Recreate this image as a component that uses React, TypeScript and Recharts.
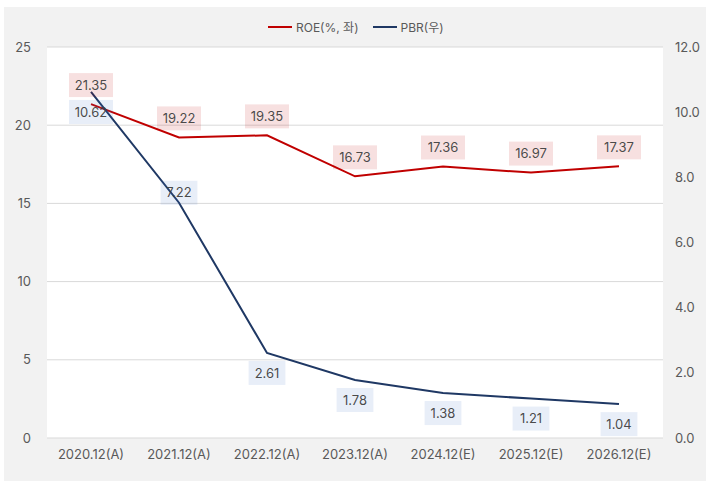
import React from 'react';
import {
  ComposedChart,
  Line,
  XAxis,
  YAxis,
  CartesianGrid,
  LabelList,
} from 'recharts';

const categories = [
  '2020.12(A)',
  '2021.12(A)',
  '2022.12(A)',
  '2023.12(A)',
  '2024.12(E)',
  '2025.12(E)',
  '2026.12(E)',
];
const roeValues = [21.35, 19.22, 19.35, 16.73, 17.36, 16.97, 17.37];
const pbrValues = [10.62, 7.22, 2.61, 1.78, 1.38, 1.21, 1.04];
const leftTicks = [0, 5, 10, 15, 20, 25];
const rightTicks = [0, 2, 4, 6, 8, 10, 12];

const data = categories.map((name, i) => ({
  name,
  roe: roeValues[i],
  pbr: pbrValues[i],
}));

const FONT = 'Inter, "Noto Sans CJK KR", sans-serif';
const RED = '#c00000';
const NAVY = '#1f3864';
const TEXT = '#595959';

// boxes are translucent so the lines still show through, as in the original
const makeLabel = (above: boolean, bg: string) => (props: any) => {
  const { x, y, value, index } = props;
  const text = Number(value).toFixed(2);
  const w = text.length * 7.2 + 8;
  const h = 24;
  let top = above ? y - 7 - h : y + 8;
  // 2021 PBR label sits on the line in the original
  if (!above && index === 1) top = y - 22;
  return (
    <g>
      <rect x={x - w / 2} y={top} width={w} height={h} fill={bg} fillOpacity={0.12} />
      <text
        x={x}
        y={top + h / 2 + 1}
        textAnchor="middle"
        dominantBaseline="middle"
        fontSize={13}
        fontFamily={FONT}
        fill="#404040"
        fillOpacity={0.95}
      >
        {text}
      </text>
    </g>
  );
};

const Legend = () => (
  <div
    style={{
      position: 'absolute',
      left: 268,
      top: 18,
      display: 'flex',
      alignItems: 'center',
      fontFamily: FONT,
      fontSize: 12,
      color: TEXT,
    }}
  >
    <span style={{ width: 24, height: 2, background: RED, marginRight: 4 }} />
    <span style={{ marginRight: 14 }}>ROE(%, 좌)</span>
    <span style={{ width: 24, height: 2, background: NAVY, marginRight: 4 }} />
    <span>PBR(우)</span>
  </div>
);

export default function App() {
  return (
    <div style={{ position: 'absolute', left: 0, top: 0, width: 712, height: 489, background: '#fff' }}>
      <div
        style={{
          position: 'absolute',
          left: 4,
          top: 7,
          width: 702,
          height: 474,
          background: '#f2f2f2',
        }}
      />
      <Legend />
      <div style={{ position: 'absolute', left: 0, top: 0 }}>
        <ComposedChart
          width={712}
          height={489}
          data={data}
          margin={{ top: 47, right: 9, left: 7, bottom: 21 }}
        >
          <CartesianGrid
            yAxisId="left"
            vertical={false}
            stroke="#d9d9d9"
            fill="#ffffff"
            fillOpacity={1}
          />
          <XAxis
            dataKey="name"
            scale="band"
            height={30}
            axisLine={false}
            tickLine={false}
            tickMargin={6}
            tick={{ fontSize: 13, fill: TEXT, fontFamily: FONT }}
          />
          <YAxis
            yAxisId="left"
            width={40}
            domain={[0, 25]}
            ticks={leftTicks}
            axisLine={false}
            tickLine={false}
            tickMargin={10}
            tick={{ fontSize: 13, fill: TEXT, fontFamily: FONT }}
          />
          <YAxis
            yAxisId="right"
            orientation="right"
            width={40}
            domain={[0, 12]}
            ticks={rightTicks}
            axisLine={false}
            tickLine={false}
            tickMargin={6}
            tickFormatter={(v: number) => v.toFixed(1)}
            tick={{ fontSize: 13, fill: TEXT, fontFamily: FONT, textAnchor: 'start' }}
          />
          <Line
            yAxisId="left"
            dataKey="roe"
            stroke={RED}
            strokeWidth={2}
            dot={false}
            isAnimationActive={false}
          >
            <LabelList dataKey="roe" content={makeLabel(true, RED)} />
          </Line>
          <Line
            yAxisId="right"
            dataKey="pbr"
            stroke={NAVY}
            strokeWidth={2}
            dot={false}
            isAnimationActive={false}
          >
            <LabelList dataKey="pbr" content={makeLabel(false, '#4472c4')} />
          </Line>
        </ComposedChart>
      </div>
    </div>
  );
}
